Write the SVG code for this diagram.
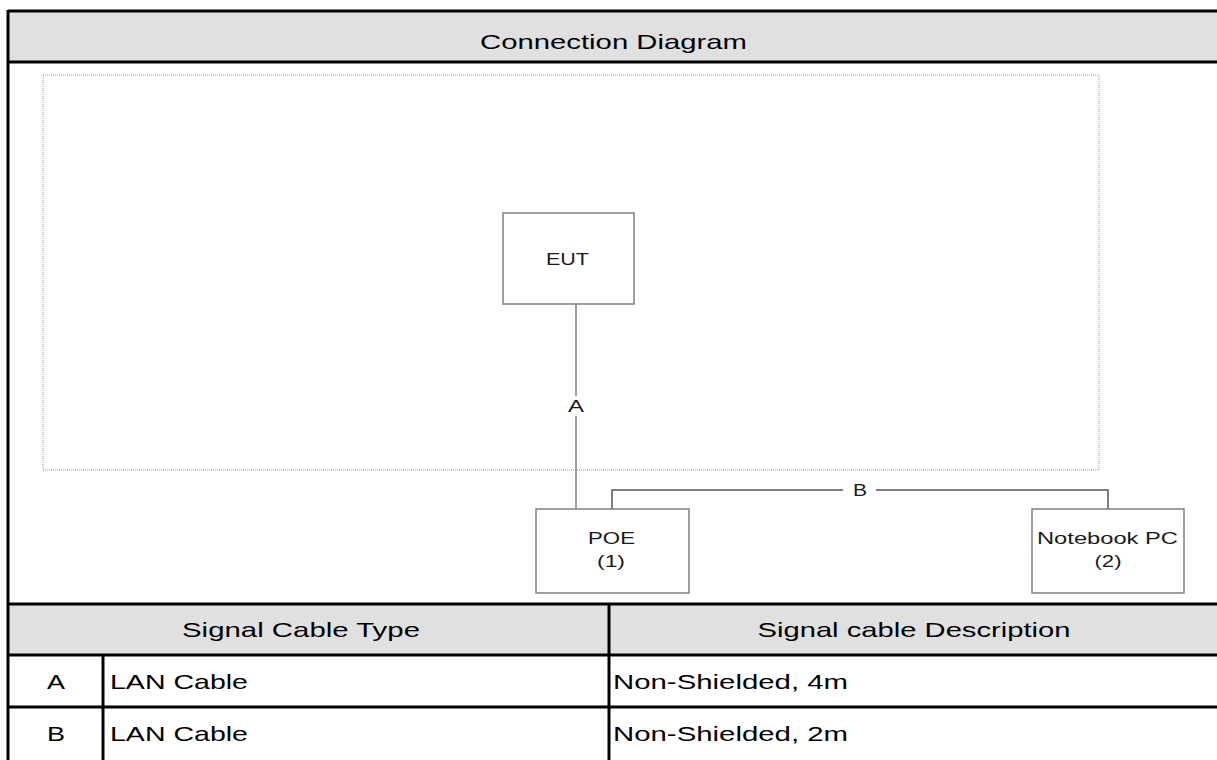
<svg xmlns="http://www.w3.org/2000/svg" width="1217" height="760" viewBox="0 0 1217 760">
<defs>
<style>
.hdr{fill:#e0e0e0}
.thick{stroke:#000;stroke-width:3;fill:none}
.t20{font-family:"Liberation Sans",Arial,sans-serif;font-size:21px;fill:#000}
.box{fill:#fff;stroke:#808080;stroke-width:1.5}
.lbl{font-family:"Liberation Sans",Arial,sans-serif;font-size:16px;fill:#1a1a1a}
.dot{fill:none;stroke:#b8b8b8;stroke-width:1.5;stroke-dasharray:1 1}
</style>
</defs>
<rect x="0" y="0" width="1217" height="760" fill="#fff"/>
<g id="table">
<rect class="hdr" x="8" y="11" width="1209" height="51"/>
<rect class="hdr" x="8" y="604" width="1209" height="51"/>
<line class="thick" x1="8" y1="11" x2="1217" y2="11"/>
<line class="thick" x1="8" y1="62" x2="1217" y2="62"/>
<line class="thick" x1="8" y1="10" x2="8" y2="760"/>
<line class="thick" x1="8" y1="604" x2="1217" y2="604"/>
<line class="thick" x1="8" y1="655" x2="1217" y2="655"/>
<line class="thick" x1="8" y1="707" x2="1217" y2="707"/>
<line class="thick" x1="609" y1="604" x2="609" y2="760"/>
<line class="thick" x1="103" y1="655" x2="103" y2="760"/>
<text class="t20" x="613.5" y="48.5" text-anchor="middle" textLength="267" lengthAdjust="spacingAndGlyphs">Connection Diagram</text>
<text class="t20" x="301" y="637" text-anchor="middle" textLength="238" lengthAdjust="spacingAndGlyphs">Signal Cable Type</text>
<text class="t20" x="914" y="637" text-anchor="middle" textLength="313" lengthAdjust="spacingAndGlyphs">Signal cable Description</text>
<text class="t20" x="56" y="689" text-anchor="middle" textLength="18" lengthAdjust="spacingAndGlyphs">A</text>
<text class="t20" x="110" y="689" textLength="138" lengthAdjust="spacingAndGlyphs">LAN Cable</text>
<text class="t20" x="613" y="689" textLength="235" lengthAdjust="spacingAndGlyphs">Non-Shielded, 4m</text>
<text class="t20" x="56" y="741" text-anchor="middle" textLength="18" lengthAdjust="spacingAndGlyphs">B</text>
<text class="t20" x="110" y="741" textLength="138" lengthAdjust="spacingAndGlyphs">LAN Cable</text>
<text class="t20" x="613" y="741" textLength="235" lengthAdjust="spacingAndGlyphs">Non-Shielded, 2m</text>
</g>
<rect id="area" class="dot" x="43" y="75" width="1056" height="395"/>
<g id="connectors">
<line x1="576" y1="304" x2="576" y2="396" stroke="#a0a0a0" stroke-width="2"/>
<line x1="576" y1="416" x2="576" y2="509" stroke="#a0a0a0" stroke-width="2"/>
<text class="lbl" x="576" y="412" text-anchor="middle" textLength="16" lengthAdjust="spacingAndGlyphs">A</text>
<polyline points="612,509 612,490 843,490" fill="none" stroke="#555" stroke-width="1.5"/>
<polyline points="876,490 1108,490 1108,509" fill="none" stroke="#555" stroke-width="1.5"/>
<text class="lbl" x="860" y="496" text-anchor="middle" textLength="14" lengthAdjust="spacingAndGlyphs">B</text>
</g>
<g id="eut">
<rect class="box" x="503" y="213" width="131" height="91"/>
<text class="lbl" x="567.5" y="265" text-anchor="middle" textLength="43" lengthAdjust="spacingAndGlyphs">EUT</text>
</g>
<g id="poe">
<rect class="box" x="536" y="509" width="153" height="84"/>
<text class="lbl" x="611.5" y="544" text-anchor="middle" textLength="47" lengthAdjust="spacingAndGlyphs">POE</text>
<text class="lbl" x="611" y="567" text-anchor="middle" textLength="28" lengthAdjust="spacingAndGlyphs">(1)</text>
</g>
<g id="notebook">
<rect class="box" x="1032" y="509" width="152" height="84"/>
<text class="lbl" x="1107.5" y="544" text-anchor="middle" textLength="141" lengthAdjust="spacingAndGlyphs">Notebook PC</text>
<text class="lbl" x="1108" y="567" text-anchor="middle" textLength="27" lengthAdjust="spacingAndGlyphs">(2)</text>
</g>
</svg>
